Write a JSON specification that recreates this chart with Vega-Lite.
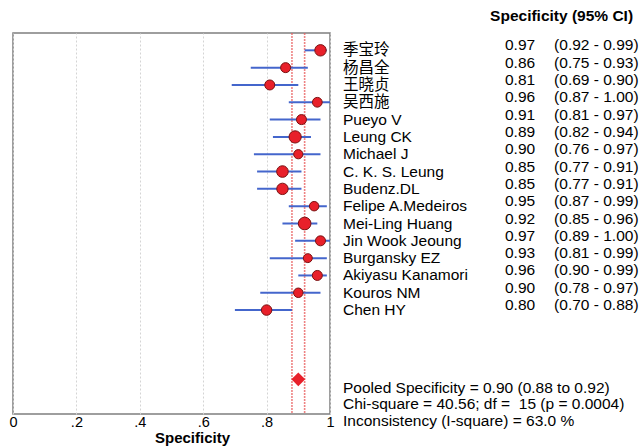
{
  "$schema": "https://vega.github.io/schema/vega-lite/v6.json",
  "width": 317,
  "height": 381,
  "autosize": {"type": "none"},
  "padding": {"left": 13, "top": 33, "right": 309, "bottom": 34},
  "background": "white",
  "config": {
    "view": {"stroke": "#7f7f7f", "strokeWidth": 1.5},
    "font": "Liberation Sans, Noto Sans CJK SC",
    "text": {"font": "Liberation Sans, Noto Sans CJK SC"}
  },
  "datasets": {
    "studies": [
      {"study": "季宝玲", "row": 1, "spec": 0.97, "lo": 0.92, "hi": 0.99, "ci": "(0.92 - 0.99)", "weight": 6.5},
      {"study": "杨昌全", "row": 2, "spec": 0.86, "lo": 0.75, "hi": 0.93, "ci": "(0.75 - 0.93)", "weight": 5},
      {"study": "王晓贞", "row": 3, "spec": 0.81, "lo": 0.69, "hi": 0.90, "ci": "(0.69 - 0.90)", "weight": 5},
      {"study": "吴西施", "row": 4, "spec": 0.96, "lo": 0.87, "hi": 1.00, "ci": "(0.87 - 1.00)", "weight": 4.75},
      {"study": "Pueyo V", "row": 5, "spec": 0.91, "lo": 0.81, "hi": 0.97, "ci": "(0.81 - 0.97)", "weight": 5},
      {"study": "Leung CK", "row": 6, "spec": 0.89, "lo": 0.82, "hi": 0.94, "ci": "(0.82 - 0.94)", "weight": 7.5},
      {"study": "Michael J", "row": 7, "spec": 0.90, "lo": 0.76, "hi": 0.97, "ci": "(0.76 - 0.97)", "weight": 4.25},
      {"study": "C. K. S. Leung", "row": 8, "spec": 0.85, "lo": 0.77, "hi": 0.91, "ci": "(0.77 - 0.91)", "weight": 6.75},
      {"study": "Budenz.DL", "row": 9, "spec": 0.85, "lo": 0.77, "hi": 0.91, "ci": "(0.77 - 0.91)", "weight": 6.5},
      {"study": "Felipe A.Medeiros", "row": 10, "spec": 0.95, "lo": 0.87, "hi": 0.99, "ci": "(0.87 - 0.99)", "weight": 4.5},
      {"study": "Mei-Ling Huang", "row": 11, "spec": 0.92, "lo": 0.85, "hi": 0.96, "ci": "(0.85 - 0.96)", "weight": 8},
      {"study": "Jin Wook Jeoung", "row": 12, "spec": 0.97, "lo": 0.89, "hi": 1.00, "ci": "(0.89 - 1.00)", "weight": 5},
      {"study": "Burgansky EZ", "row": 13, "spec": 0.93, "lo": 0.81, "hi": 0.99, "ci": "(0.81 - 0.99)", "weight": 4},
      {"study": "Akiyasu Kanamori", "row": 14, "spec": 0.96, "lo": 0.90, "hi": 0.99, "ci": "(0.90 - 0.99)", "weight": 5},
      {"study": "Kouros NM", "row": 15, "spec": 0.90, "lo": 0.78, "hi": 0.97, "ci": "(0.78 - 0.97)", "weight": 4.5},
      {"study": "Chen HY", "row": 16, "spec": 0.80, "lo": 0.70, "hi": 0.88, "ci": "(0.70 - 0.88)", "weight": 5.5}
    ],
    "pooled": [{"label": "Pooled", "row": 20, "spec": 0.90, "lo": 0.88, "hi": 0.92}],
    "footer": [
      {"line": "Pooled Specificity = 0.90 (0.88 to 0.92)", "row": 20.5},
      {"line": "Chi-square = 40.56; df =\u00a0 15 (p = 0.0004)", "row": 21.45},
      {"line": "Inconsistency (I-square) = 63.0 %", "row": 22.4}
    ]
  },
  "layer": [
    {
      "data": {"name": "pooled"},
      "mark": {"type": "rule", "color": "#e85a5a", "strokeWidth": 1.6, "strokeDash": [2, 1], "opacity": 0.75},
      "encoding": {
        "x": {
          "field": "lo", "type": "quantitative", "title": "Specificity",
          "scale": {"domain": [0, 1], "nice": false, "zero": false},
          "axis": {
            "values": [0, 0.1, 0.2, 0.3, 0.4, 0.5, 0.6, 0.7, 0.8, 0.9, 1],
            "labelExpr": "datum.value == 0 ? '0' : datum.value == 1 ? '1' : (round(datum.value * 10) % 2 == 0 ? replace(format(datum.value, '.1f'), '0.', '.') : '')",
            "grid": true, "gridColor": "#d4d4d4", "gridDash": [2, 2], "gridWidth": 1,
            "ticks": false, "domain": false,
            "labelFontSize": 14.5, "labelColor": "#000", "labelPadding": 1, "labelOverlap": false, "labelFlush": false,
            "titleFontSize": 15, "titleFontWeight": "bold", "titleColor": "#000", "titlePadding": 2, "titleX": 179
          }
        }
      }
    },
    {
      "data": {"name": "pooled"},
      "mark": {"type": "rule", "color": "#e85a5a", "strokeWidth": 1.6, "strokeDash": [2, 1], "opacity": 0.75},
      "encoding": {"x": {"field": "hi", "type": "quantitative", "title": "Specificity"}}
    },
    {
      "data": {"name": "studies"},
      "mark": {"type": "rule", "color": "#4466cc", "strokeWidth": 2},
      "encoding": {
        "x": {"field": "lo", "type": "quantitative", "title": "Specificity"},
        "x2": {"field": "hi"},
        "y": {"field": "row", "type": "quantitative", "scale": {"domain": [0, 22], "reverse": true, "nice": false, "zero": false}, "axis": null}
      }
    },
    {
      "data": {"name": "studies"},
      "mark": {"type": "point", "shape": "circle", "filled": true, "fill": "#e8202a", "stroke": "#7a1212", "strokeWidth": 1, "opacity": 1},
      "encoding": {
        "x": {"field": "spec", "type": "quantitative", "title": "Specificity"},
        "y": {"field": "row", "type": "quantitative"},
        "size": {"field": "weight", "type": "quantitative", "scale": {"domain": [0, 8], "range": [0, 160]}, "legend": null}
      }
    },
    {
      "data": {"name": "pooled"},
      "mark": {"type": "point", "shape": "diamond", "filled": true, "fill": "#e8202a", "size": 190, "opacity": 1},
      "encoding": {
        "x": {"field": "spec", "type": "quantitative", "title": "Specificity"},
        "y": {"field": "row", "type": "quantitative"}
      }
    },
    {
      "data": {"name": "studies"},
      "mark": {"type": "text", "align": "left", "baseline": "middle", "fontSize": 15.5, "color": "#000"},
      "encoding": {
        "x": {"datum": 1.041, "type": "quantitative", "title": "Specificity"},
        "y": {"field": "row", "type": "quantitative"},
        "text": {"field": "study"}
      }
    },
    {
      "data": {"name": "studies"},
      "mark": {"type": "text", "align": "left", "baseline": "middle", "fontSize": 15.5, "color": "#000", "dy": -5},
      "encoding": {
        "x": {"datum": 1.552, "type": "quantitative", "title": "Specificity"},
        "y": {"field": "row", "type": "quantitative"},
        "text": {"field": "spec", "type": "quantitative", "format": ".2f"}
      }
    },
    {
      "data": {"name": "studies"},
      "mark": {"type": "text", "align": "left", "baseline": "middle", "fontSize": 15.5, "color": "#000", "dy": -5},
      "encoding": {
        "x": {"datum": 1.707, "type": "quantitative", "title": "Specificity"},
        "y": {"field": "row", "type": "quantitative"},
        "text": {"field": "ci"}
      }
    },
    {
      "data": {"values": [{"h": "Specificity (95% CI)", "row": -1}]},
      "mark": {"type": "text", "align": "left", "baseline": "middle", "fontSize": 15.5, "fontWeight": "bold", "color": "#000"},
      "encoding": {
        "x": {"datum": 1.505, "type": "quantitative", "title": "Specificity"},
        "y": {"field": "row", "type": "quantitative"},
        "text": {"field": "h"}
      }
    },
    {
      "data": {"name": "footer"},
      "mark": {"type": "text", "align": "left", "baseline": "middle", "fontSize": 15.5, "color": "#000"},
      "encoding": {
        "x": {"datum": 1.041, "type": "quantitative", "title": "Specificity"},
        "y": {"field": "row", "type": "quantitative"},
        "text": {"field": "line"}
      }
    }
  ]
}
